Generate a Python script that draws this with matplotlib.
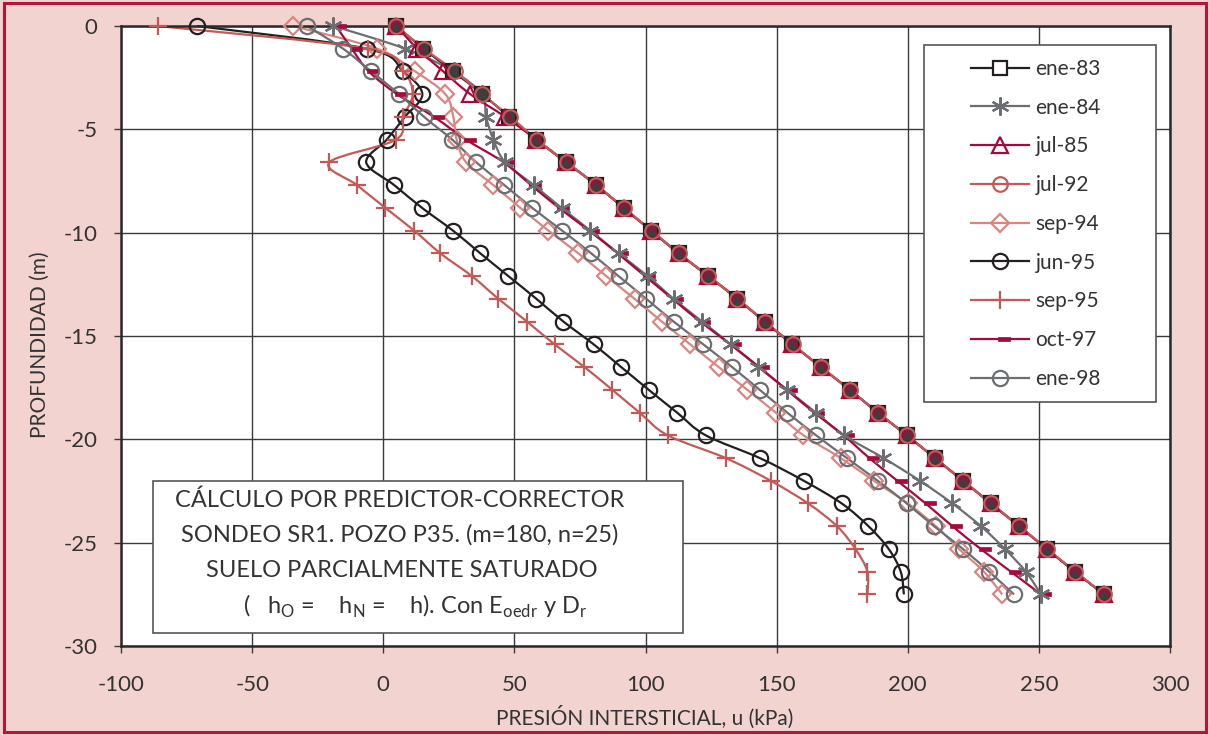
import numpy as np
import matplotlib
matplotlib.use('Agg')
import matplotlib.pyplot as plt
from matplotlib.path import Path
from matplotlib.patches import PathPatch, Rectangle
from matplotlib.lines import Line2D

plt.rcParams['font.family'] = ['Lato', 'DejaVu Sans']
plt.rcParams['axes.unicode_minus'] = False
plt.rcParams['mathtext.fontset'] = 'custom'
plt.rcParams['mathtext.rm'] = 'Lato'

# profundidad de los nodos (m)
profundidad = [0, -1.1, -2.2, -3.3, -4.4, -5.5, -6.6, -7.7, -8.8, -9.9, -11.0, -12.1, -13.2,
               -14.3, -15.4, -16.5, -17.6, -18.7, -19.8, -20.9, -22.0, -23.1, -24.2, -25.3,
               -26.4, -27.5]

# presion intersticial (kPa) por campaña
ene83 = [5, 15.3, 26.7, 37.8, 48.0, 58.4, 69.8, 81.3, 91.6, 102.2, 112.6, 124.0, 135.0,
         145.4, 156.0, 166.8, 177.9, 188.5, 199.6, 210.3, 221.0, 231.7, 242.4, 253.0, 263.7, 274.8]
ene84 = [-19, 8.4, 26.8, 37.6, 39.2, 42.0, 46.5, 57.4, 68.0, 79.0, 89.7, 100.8, 110.7,
         121.6, 132.4, 143.0, 154.0, 164.9, 175.6, 190.7, 204.6, 217.0, 227.9, 237.0, 245.0, 250.8]
jul85 = [5, 13.0, 22.9, 33.2, 46.6, 58.4, 69.8, 81.3, 91.6, 102.2, 112.6, 124.0, 135.0,
         145.4, 156.0, 166.8, 177.9, 188.5, 199.6, 210.3, 221.0, 231.7, 242.4, 253.0, 263.7, 274.8]
jul92 = [5, 15.6, 27.5, 37.7, 48.5, 58.6, 69.9, 81.3, 91.7, 102.3, 112.7, 124.0, 135.0,
         145.5, 156.1, 166.8, 177.9, 188.5, 199.6, 210.3, 221.0, 231.7, 242.4, 253.2, 263.8, 274.8]
sep94 = [-34.4, -2.3, 12.2, 23.7, 26.7, 28.0, 31.6, 42.0, 52.3, 63.0, 74.4, 85.0, 95.8,
         106.2, 117.0, 127.9, 138.8, 149.6, 160.2, 174.4, 187.0, 200.0, 210.7, 219.5, 229.0, 236.0]
jun95 = [-71, -6.1, 7.6, 14.9, 8.2, 1.3, -6.5, 4.2, 14.8, 26.6, 37.0, 47.7, 58.4,
         68.7, 80.2, 90.7, 101.2, 112.0, 122.9, 143.5, 160.3, 174.8, 185.0, 192.7, 197.3, 198.5]
sep95 = [-86, -6.0, 7.6, 11.2, 7.6, 4.8, -20.6, -10.0, 0.8, 11.8, 21.8, 33.8, 43.9,
         54.8, 65.3, 76.7, 87.3, 97.7, 108.4, 130.5, 147.7, 162.0, 173.0, 180.0, 184.6, 184.6]
oct97 = [-18, -12.0, -5.5, 5.3, 19.4, 31.6, 46.0, 56.4, 67.0, 78.5, 89.4, 99.8, 110.3,
         120.8, 132.4, 143.3, 153.8, 164.3, 175.5, 185.3, 196.0, 206.8, 217.0, 227.8, 239.3, 250.8]
ene98 = [-29, -15.3, -4.6, 6.1, 15.6, 26.3, 35.5, 46.2, 56.8, 68.2, 79.3, 89.7, 100.3,
         110.7, 122.0, 133.0, 143.5, 154.0, 165.0, 176.7, 188.5, 199.6, 210.0, 221.0, 231.0, 240.5]

NEGRO = '#231f20'
GRIS = '#6d6e71'
GRANATE = '#a8083a'
ROJO = '#c45a58'
ROSA = '#d98680'
TEXTO = '#333333'

# marcador de guion desplazado hacia la derecha (como en Excel)
guion = Path([(-0.2, -0.25), (1.0, -0.25), (1.0, 0.25), (-0.2, 0.25), (-0.2, -0.25)],
             [Path.MOVETO, Path.LINETO, Path.LINETO, Path.LINETO, Path.CLOSEPOLY])

# nombre, datos, color, marcador, orden de dibujo de los marcadores
series = [
    ('ene-83', ene83, NEGRO, dict(marker='s', ms=10.5, mfc='#3e3e3e', mec=NEGRO), 3.2),
    ('ene-84', ene84, GRIS, dict(marker=(6, 2, 0), ms=13, mec=GRIS), 3.1),
    ('jul-85', jul85, GRANATE, dict(marker='^', ms=12, mfc='none', mec=GRANATE), 3.3),
    ('jul-92', jul92, ROJO, dict(marker='o', ms=10.5, mfc='none', mec=ROJO), 3.4),
    ('sep-94', sep94, ROSA, dict(marker='D', ms=9, mfc='none', mec=ROSA), 3.0),
    ('jun-95', jun95, NEGRO, dict(marker='o', ms=11, mfc='none', mec=NEGRO), 3.0),
    ('sep-95', sep95, ROJO, dict(marker='+', ms=13, mec=ROJO), 3.0),
    ('oct-97', oct97, GRANATE, dict(marker=guion, ms=14, mfc=GRANATE, mec=GRANATE, mew=0.5), 3.0),
    ('ene-98', ene98, GRIS, dict(marker='o', ms=11, mfc='none', mec=GRIS), 3.05),
]


def curva_suave(x, y):
    # Bezier tipo Catmull-Rom entre los nodos
    p = np.column_stack([x, y])
    n = len(p)
    verts = [p[0]]
    codes = [Path.MOVETO]
    for i in range(n - 1):
        p0 = p[i - 1] if i > 0 else p[i]
        p3 = p[i + 2] if i + 2 < n else p[i + 1]
        verts += [p[i] + (p[i + 1] - p0) / 6, p[i + 1] - (p3 - p[i]) / 6, p[i + 1]]
        codes += [Path.CURVE4] * 3
    return Path(verts, codes)


fig = plt.figure(figsize=(12.1, 7.35), dpi=100)
fig.patch.set_facecolor('#f2d3cf')
fig.patches.append(Rectangle((0.003, 0.004), 0.994, 0.992, transform=fig.transFigure,
                             fill=False, edgecolor='#b3153b', lw=2.2))
ax = fig.add_axes([0.1, 0.121, 0.867, 0.8436])
ax.set_facecolor('white')

handles = []
for nombre, valores, color, estilo, zo in series:
    ax.add_patch(PathPatch(curva_suave(valores, profundidad), fill=False,
                           edgecolor=color, lw=1.6, zorder=2, clip_on=False))
    mew = estilo.pop('mew', 1.6)
    ax.plot(valores, profundidad, ls='none', mew=mew, **estilo, zorder=zo, clip_on=False)
    handles.append(Line2D([], [], color=color, lw=1.6, mew=mew, **estilo))
handles[0].set_markerfacecolor('white')

ax.set_xlim(-100, 300)
ax.set_ylim(-30, 0)
ax.set_xticks(np.arange(-100, 301, 50))
ax.set_yticks(np.arange(-30, 1, 5))
ax.grid(True, color='#3a3a3a', lw=1.0)
ax.set_axisbelow(True)
for s in ax.spines.values():
    s.set_color('#2a2a2a')
    s.set_linewidth(1.8)
ax.tick_params(axis='x', direction='out', length=5, width=1, pad=16, labelsize=16,
               colors='#3a3a3a', labelcolor=TEXTO)
ax.tick_params(axis='y', direction='out', length=5, width=1, pad=12, labelsize=16,
               colors='#3a3a3a', labelcolor=TEXTO)

fig.text(40 / 1210, 1 - 345 / 735, 'PROFUNDIDAD (m)', rotation=90, ha='center', va='center',
         fontsize=15, color=TEXTO)
fig.text(645 / 1210, 1 - 717 / 735, 'PRESIÓN INTERSTICIAL, u (kPa)', ha='center', va='center',
         fontsize=15, color=TEXTO)

# leyenda
ax.add_patch(Rectangle((0.7655, 0.3935), 0.2212, 0.5755, transform=ax.transAxes,
                       facecolor='white', edgecolor='#555555', lw=1.2, zorder=5))
leg = ax.legend(handles, [s[0] for s in series], loc='center', bbox_to_anchor=(0.872, 0.681),
                frameon=False, fontsize=15, handlelength=2.8, handletextpad=0.3,
                labelspacing=0.9)
leg.set_zorder(6)
for t in leg.get_texts():
    t.set_color(TEXTO)

# recuadro con el caso de calculo
ax.add_patch(Rectangle((0.0305, 0.021), 0.5052, 0.245, transform=ax.transAxes,
                       facecolor='white', edgecolor='#555555', lw=1.2, zorder=5))
lineas = ['CÁLCULO POR PREDICTOR-CORRECTOR',
          'SONDEO SR1. POZO P35. (m=180, n=25)',
          'SUELO PARCIALMENTE SATURADO',
          r'(   h$_{\mathrm{O}}$ =    h$_{\mathrm{N}}$ =    h). Con E$_{\mathrm{oedr}}$ y D$_{\mathrm{r}}$']
for txt, yy, xx in zip(lineas, [0.2355, 0.179, 0.1226, 0.0645], [0.266, 0.266, 0.268, 0.28]):
    ax.text(xx, yy, txt, transform=ax.transAxes, ha='center', va='center', fontsize=17,
            color=TEXTO, zorder=6)

fig.savefig('out.png', dpi=100, facecolor=fig.get_facecolor())
